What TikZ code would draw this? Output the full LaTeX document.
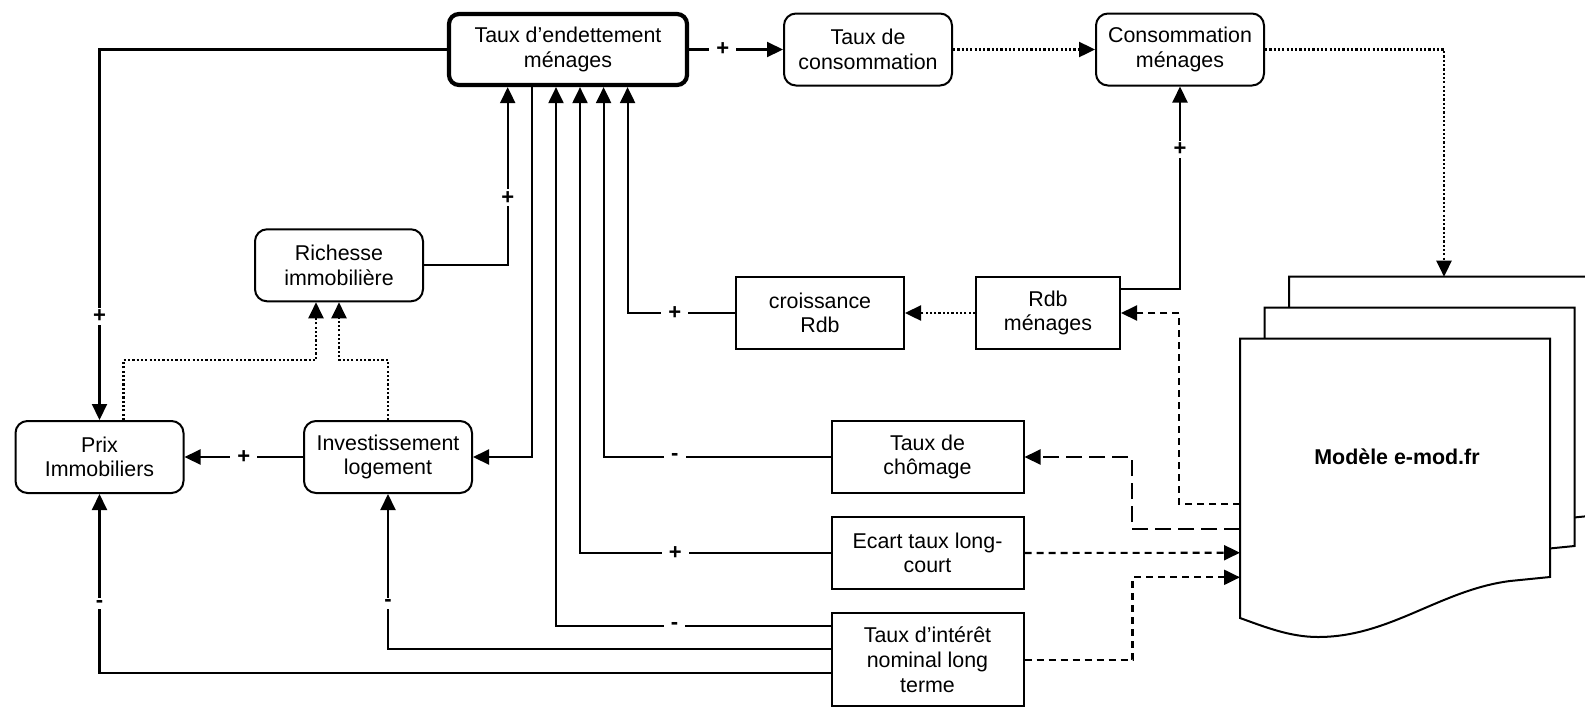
\documentclass[tikz,border=0pt]{standalone}
\usepackage{fontspec}
\setmainfont{Liberation Sans}
\usetikzlibrary{arrows.meta,calc}
\begin{document}
\begin{tikzpicture}[x=0.5pt,y=-0.5pt,
  every node/.style={font=\fontsize{10.7}{12.3}\selectfont},
  box/.style={draw, line width=1pt, align=center, inner sep=0pt, minimum width=84pt, minimum height=36pt},
  rbox/.style={box, rounded corners=6pt},
  plain/.style={line width=1pt},
  conn/.style={line width=1.05pt, -{Triangle[length=8pt,width=7.5pt]}},
  dotline/.style={line width=1.2pt, dash pattern=on 1.1pt off 1.05pt},
  sdash/.style={dash pattern=on 3.5pt off 2.5pt},
  ldash/.style={dash pattern=on 8pt off 3.5pt},
  lab/.style={fill=white, font=\fontsize{11}{12.5}\selectfont\bfseries, inner xsep=3.5pt, inner ysep=1pt},
]
\useasboundingbox (0,0) rectangle (1585,708);

% nodes
\node[rbox, line width=2.1pt, minimum width=119pt, minimum height=35.5pt, rounded corners=5pt] (te) at (568,49.5) {Taux d’endettement\\ménages};
\node[rbox] (tc) at (868,49.5) {Taux de\\consommation};
\node[rbox] (cm) at (1180,49.5) {Consommation\\ménages};
\node[rbox] (ri) at (339,265.3) {Richesse\\immobilière};
\node[box] (cr) at (820,313) {croissance\\Rdb};
\node[box, minimum width=72pt] (rdb) at (1048,313) {Rdb\\ménages};
\node[rbox] (prix) at (99.5,457) {Prix\\Immobiliers};
\node[rbox] (inv) at (388,457) {Investissement\\logement};
\node[box, minimum width=96pt] (ch) at (927.5,457) {Taux de\\chômage};
\node[box, minimum width=96pt] (ec) at (927.5,553) {Ecart taux long-\\court};
\node[box, minimum width=96pt, minimum height=46.5pt] (ti) at (927.5,659.7) {Taux d’intérêt\\nominal long\\terme};

% multiple document shape
\begin{scope}
\clip (0,0) rectangle (1585,708);
\foreach \dx/\dy in {49/-62, 24.5/-31, 0/0} {
  \draw[plain, fill=white, shift={(\dx,\dy)}] (1240,338.7) -- (1550,338.7) -- (1550,577) -- (1510,581)
    .. controls (1440,590) and (1390,637) .. (1318,637)
    .. controls (1290,637) and (1265,627) .. (1240,618) -- cycle;
}
\end{scope}
\node[font=\fontsize{10.7}{12.5}\selectfont\bfseries] (doc) at (1397,457) {Modèle e-mod.fr};
\coordinate (docT) at (1444,276.7);
\coordinate (docA) at (1240,504.3);
\coordinate (docB) at (1240,529);
\coordinate (docC) at (1240,552.7);
\coordinate (docD) at (1240,577.3);

% connectors
\draw[conn] (te.east) -- node[lab, pos=0.36]{+} (tc.west);
\draw[conn, dotline] (tc.east) -- (cm.west);
\draw[conn, dotline] (cm.east) -| (docT);
\draw[conn] ([yshift=12pt]rdb.east) -| node[lab, pos=0.845]{+} (cm.south);
\draw[conn, dotline] (rdb.west) -- (cr.east);
\draw[conn] (cr.west) -| node[lab, pos=0.28]{+} ([xshift=29.8pt]te.south);
\draw[conn] (ri.east) -| node[lab, pos=0.69]{+} ([xshift=-30.15pt]te.south);
\draw[conn] (te.west) -| node[lab, pos=0.86]{+} (prix.north);
\draw[conn] ([xshift=-18pt]te.south) |- (inv.east);
\draw[conn] (inv.west) -- node[lab]{+} (prix.east);
\draw[conn, dotline] ([xshift=12pt]prix.north) -- ++(0,-60) -| ([xshift=-11.5pt]ri.south);
\draw[conn, dotline] (inv.north) -- ++(0,-60) -| (ri.south);
\draw[conn] ([yshift=-6.65pt]ti.west) -| node[lab, pos=0.694]{-} (prix.south);
\draw[conn] ([yshift=5.2pt]ti.west) -| node[lab, pos=0.648]{-} (inv.south);
\draw[conn] ([yshift=17pt]ti.west) -| node[lab, pos=0.284]{-} ([xshift=-6pt]te.south);
\draw[conn] (ec.west) -| node[lab, pos=0.31]{+} ([xshift=6pt]te.south);
\draw[conn] (ch.west) -| node[lab, pos=0.343]{-} ([xshift=17.8pt]te.south);
\draw[conn, sdash] (docA) -- ++(-60.6,0) |- (rdb.east);
\draw[conn, ldash] (docB) -- ++(-108,0) |- (ch.east);
\draw[conn, sdash] (ec.east) -- (docC);
\draw[conn, sdash] (ti.east) -- ++(108,0) |- (docD);
\end{tikzpicture}
\end{document}
